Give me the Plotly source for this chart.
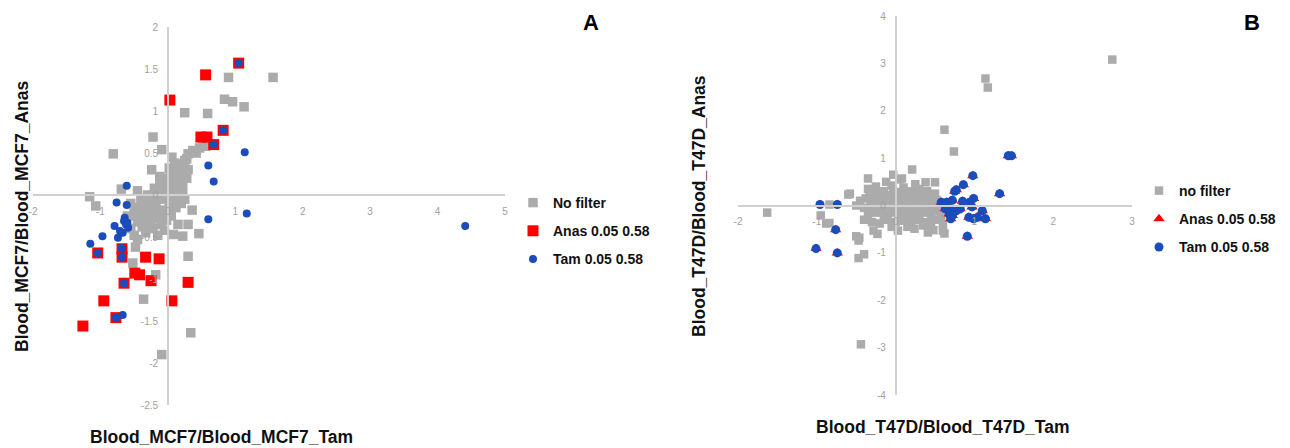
import plotly.graph_objects as go

# ---------------- Panel A data (Blood_MCF7) ----------------
a_nofilter_x = [1.56, 0.90, 0.84, 0.96, 1.13, 0.25, 0.59, -0.22, -0.81, -0.09, 0.06, -0.24, -1.16, -1.07,
                0.36, 0.30, 0.46, 0.22, 0.30, -0.18, -0.36, 0.34, -0.09, -0.52, -0.48, -0.45, 0.08, 0.25, -0.69,
                0.30, 0.37, 0.47, 0.52, 0.25, 0.18, 0.13, 0.07, 0.42, 0.56, 0.28,
                0.00, 0.05, -0.05, 0.10, 0.15, 0.20, -0.10, 0.00, 0.08, -0.15, -0.05, 0.12, 0.18, -0.20, -0.25,
                -0.30, -0.18, -0.08, 0.02, -0.35, -0.40, -0.28, -0.15, -0.45, -0.50, -0.38, -0.22, -0.10, 0.05,
                0.12, -0.55, -0.30, -0.40, 0.22, 0.28, 0.30, -0.12, 0.02, 0.10, -0.45, -0.55, -0.60, -0.05, 0.15,
                -0.33, 0.20, -0.50, 0.18, 0.10, -0.02,
                -0.02, 0.04, -0.12, -0.22, -0.32, -0.42, -0.28, -0.18, -0.08, 0.08, 0.15, -0.35, -0.25, -0.48,
                -0.15, 0.22, 0.25, -0.38, 0.00, -0.20]
a_nofilter_y = [1.40, 1.40, 1.14, 1.11, 1.05, 0.98, 0.97, 0.69, 0.49, 0.54, 0.45, 0.30, -0.02, -0.13,
                -0.18, -0.35, -0.46, -0.49, -0.73, -0.95, -1.24, -1.64, -1.90, -0.81, -0.62, -0.53, -0.47, -0.05, 0.07,
                0.49, 0.53, 0.56, 0.61, 0.41, 0.37, 0.31, 0.25, 0.50, 0.58, 0.43,
                0.20, 0.15, 0.12, 0.10, 0.18, 0.25, 0.05, 0.05, 0.02, -0.02, -0.05, -0.02, 0.05, 0.08, -0.08,
                -0.12, -0.15, -0.18, -0.12, -0.20, -0.25, -0.28, -0.28, -0.32, -0.18, -0.38, -0.40, -0.35, -0.25,
                -0.15, -0.40, 0.00, -0.05, 0.12, 0.20, 0.30, 0.22, 0.32, 0.38, 0.05, -0.10, -0.25, -0.42, -0.35,
                -0.45, -0.10, -0.48, 0.30, 0.22, -0.30,
                0.10, 0.28, 0.15, 0.00, -0.05, -0.15, -0.22, -0.08, -0.25, -0.08, 0.00, -0.30, -0.35, -0.25,
                -0.48, 0.02, 0.32, -0.12, -0.20, -0.22]

a_anas_x = [1.05, 0.56, 0.03, 0.82, 0.49, 0.58, 0.68, -1.04, -0.68, -0.68, -0.33, -0.13, -0.49, -0.42,
            -0.25, -0.65, 0.30, -0.95, 0.06, -0.77, -1.26]
a_anas_y = [1.57, 1.43, 1.13, 0.77, 0.69, 0.69, 0.60, -0.69, -0.64, -0.74, -0.74, -0.76, -0.93, -0.95,
            -1.02, -1.05, -1.04, -1.26, -1.26, -1.46, -1.56]

a_tam_x = [1.05, 0.82, 0.68, -1.04, -0.68, -0.68, -0.65, -0.77, -0.67, 1.14, 0.60, 0.68, 1.17, 0.60, 4.41,
           -0.61, -0.76, -0.61, -0.64, -0.65, -0.79, -0.59, -0.71, -0.62, -0.74, -0.97, -1.15, -0.69, -0.60, -0.67]
a_tam_y = [1.57, 0.77, 0.60, -0.69, -0.64, -0.74, -1.05, -1.46, -1.43, 0.51, 0.35, 0.16, -0.22, -0.29, -0.37,
           0.11, -0.09, -0.12, -0.27, -0.31, -0.37, -0.39, -0.43, -0.35, -0.51, -0.49, -0.58, -0.63, -0.33, -0.45]

a_xticks = [-2, -1, 0, 1, 2, 3, 4, 5]
a_xticklabels = ["-2", "-1", "0", "1", "2", "3", "4", "5"]
a_yticks = [-2.5, -2, -1.5, -1, -0.5, 0, 0.5, 1, 1.5, 2]
a_yticklabels = ["-2.5", "-2", "-1.5", "-1", "-0.5", "0", "0.5", "1", "1.5", "2"]
a_xrange = [-2, 5]
a_yrange = [-2.5, 2]

# ---------------- Panel B data (Blood_T47D) ----------------
b_nofilter_x = [2.75, 1.14, 1.17, 0.62, 0.74, 0.21, -0.03, 0.08, -0.35, -1.63, -0.60, -0.50, -0.84, -0.95,
                -0.84, -0.50, -0.47, -0.47, -0.40, -0.44, -0.28, -0.23, 0.03, 0.24, 0.41, 0.48, 0.62, 0.38, 0.50,
                -0.58, -0.88, -0.46, 0.60,
                -0.35, -0.25, -0.15, -0.05, 0.10, 0.20, 0.30, 0.40, 0.50, -0.38, -0.28, -0.18, -0.08, 0.02, 0.12,
                0.22, 0.32, 0.42, 0.52, -0.40, -0.30, -0.20, -0.10, 0.00, 0.10, 0.20, 0.30, 0.40, 0.50, 0.58,
                -0.35, -0.25, -0.15, -0.05, 0.05, 0.15, 0.25, 0.35, 0.45, 0.55, -0.30, -0.20, -0.10, 0.00, 0.10,
                0.20, 0.30, 0.40, 0.50, 0.58, -0.12, 0.05, 0.25, -0.45, 0.60, 0.45, -0.40, 0.15,
                -0.33, -0.23, -0.13, -0.03, 0.07, 0.17, 0.27, 0.37, 0.47, -0.32, -0.22, -0.12, -0.02, 0.08, 0.18,
                0.28, 0.38, 0.48, 0.55, -0.30, -0.20, -0.10, 0.00, 0.10, 0.20, 0.30, 0.40, 0.50, -0.05, 0.15, 0.35]
b_nofilter_y = [3.08, 2.68, 2.49, 1.60, 1.14, 0.76, 0.65, 0.57, 0.57, -0.15, 0.23, 0.00, 0.02, -0.21,
                -0.37, -0.65, -0.74, -1.11, -1.03, -2.93, -0.53, -0.60, -0.53, -0.49, -0.57, -0.52, -0.59, 0.49, 0.49,
                0.25, -0.38, -0.68, -0.53,
                0.35, 0.40, 0.30, 0.42, 0.38, 0.30, 0.35, 0.30, 0.25, 0.15, 0.20, 0.12, 0.20, 0.15, 0.22,
                0.12, 0.18, 0.10, 0.12, -0.05, 0.00, -0.02, 0.05, 0.00, 0.05, -0.02, 0.03, -0.05, 0.00, 0.05,
                -0.20, -0.15, -0.22, -0.15, -0.20, -0.12, -0.22, -0.15, -0.20, -0.12, -0.35, -0.38, -0.30, -0.35, -0.32,
                -0.38, -0.30, -0.35, -0.30, -0.25, 0.50, 0.55, 0.45, 0.10, -0.40, -0.45, -0.30, -0.45,
                0.25, 0.28, 0.22, 0.30, 0.28, 0.22, 0.25, 0.20, 0.18, 0.08, 0.06, 0.10, 0.08, 0.10, 0.06,
                0.08, 0.05, 0.06, -0.05, -0.08, -0.10, -0.08, -0.10, -0.06, -0.10, -0.08, -0.10, -0.08, -0.45, -0.25, -0.42]

b_tam_x = [1.43, 1.47, 0.98, 0.86, 0.75, 0.77, 1.32, 0.99, 0.58, 0.65, 0.72, 0.85, 0.94, 0.63, 0.70, 0.77,
           0.68, 0.72, 0.82, 0.70, 0.97, 1.10, 0.93, 0.99, 1.04, 1.14, 0.91, -0.96, -0.74, -0.76, -1.01, -0.74]
b_tam_y = [1.05, 1.05, 0.63, 0.44, 0.30, 0.33, 0.25, 0.15, 0.07, 0.07, 0.11, 0.09, 0.07, -0.07, -0.11, -0.11,
           -0.18, -0.21, -0.07, -0.28, -0.03, -0.11, -0.25, -0.28, -0.25, -0.28, -0.65, 0.02, 0.02, -0.51, -0.91, -1.00]
b_anas_x = list(b_tam_x)
b_anas_y = list(b_tam_y)

b_xticks = [-2, -1, 0, 1, 2, 3]
b_xticklabels = ["-2", "-1", "0", "1", "2", "3"]
b_yticks = [-4, -3, -2, -1, 0, 1, 2, 3, 4]
b_yticklabels = ["-4", "-3", "-2", "-1", "0", "1", "2", "3", "4"]
b_xrange = [-2, 3]
b_yrange = [-4, 4]

# ---------------- styling / layout ----------------
PAGE_W, PAGE_H = 1290, 448
OFF = 8  # default page body margin
W, H = PAGE_W - OFF, PAGE_H - OFF
GREY = "#ababab"
RED = "#ff0000"
BLUE = "#1a4cba"
AXCOL = "#d0d0d0"
TICKCOL = "#a0a0a0"


def px(xs):
    return (xs - OFF) / W


def py(ys):
    return 1 - (ys - OFF) / H


a_xdom = [px(33), px(505)]
a_ydom = [py(405), py(27)]
b_xdom = [px(738), px(1132)]
b_ydom = [py(395), py(16)]


def cross_pos(dom, rng):
    return dom[0] + (0 - rng[0]) / (rng[1] - rng[0]) * (dom[1] - dom[0])


fig = go.Figure()

# Panel A
fig.add_trace(go.Scatter(x=a_nofilter_x, y=a_nofilter_y, mode="markers", name="No filter",
                         marker=dict(symbol="square", size=9.5, color=GREY),
                         xaxis="x", yaxis="y", legend="legend", legendgroup="a1"))
fig.add_trace(go.Scatter(x=a_anas_x, y=a_anas_y, mode="markers", name="Anas 0.05 0.58",
                         marker=dict(symbol="square", size=11, color=RED),
                         xaxis="x", yaxis="y", legend="legend", legendgroup="a2"))
fig.add_trace(go.Scatter(x=a_tam_x, y=a_tam_y, mode="markers", name="Tam 0.05 0.58",
                         marker=dict(symbol="circle", size=8, color=BLUE),
                         xaxis="x", yaxis="y", legend="legend", legendgroup="a3"))

# Panel B
fig.add_trace(go.Scatter(x=b_nofilter_x, y=b_nofilter_y, mode="markers", name="no filter",
                         marker=dict(symbol="square", size=8.5, color=GREY),
                         xaxis="x2", yaxis="y2", legend="legend2", legendgroup="b1"))
fig.add_trace(go.Scatter(x=b_anas_x, y=b_anas_y, mode="markers", name="Anas 0.05 0.58",
                         marker=dict(symbol="triangle-up", size=10, color=RED),
                         xaxis="x2", yaxis="y2", legend="legend2", legendgroup="b2"))
fig.add_trace(go.Scatter(x=b_tam_x, y=b_tam_y, mode="markers", name="Tam 0.05 0.58",
                         marker=dict(symbol="circle", size=9, color=BLUE),
                         xaxis="x2", yaxis="y2", legend="legend2", legendgroup="b3"))

tickfont = dict(family="Liberation Sans, Arial, sans-serif", size=10, color=TICKCOL)
common = dict(showgrid=False, zeroline=False, showline=True, linecolor=AXCOL, linewidth=1.5,
              ticks="outside", ticklen=7, tickcolor="rgba(0,0,0,0)", tickfont=tickfont,
              fixedrange=True, anchor="free", automargin=False)

legfont = dict(family="Liberation Sans, Arial, sans-serif", size=14, color="#111", weight="bold")

fig.update_layout(
    width=W, height=H,
    margin=dict(l=0, r=0, t=0, b=0, autoexpand=False),
    paper_bgcolor="white", plot_bgcolor="white",
    xaxis=dict(domain=a_xdom, range=a_xrange, tickvals=a_xticks, ticktext=a_xticklabels,
               position=cross_pos(a_ydom, a_yrange), **common),
    yaxis=dict(domain=a_ydom, range=a_yrange, tickvals=a_yticks, ticktext=a_yticklabels,
               position=cross_pos(a_xdom, a_xrange), **common),
    xaxis2=dict(domain=b_xdom, range=b_xrange, tickvals=b_xticks, ticktext=b_xticklabels,
                position=cross_pos(b_ydom, b_yrange), **common),
    yaxis2=dict(domain=b_ydom, range=b_yrange, tickvals=b_yticks, ticktext=b_yticklabels,
                position=cross_pos(b_xdom, b_xrange), **common),
    legend=dict(x=px(513), y=py(187), xanchor="left", yanchor="top", font=legfont,
                tracegroupgap=7, itemwidth=30, bgcolor="rgba(0,0,0,0)"),
    legend2=dict(x=px(1139), y=py(175), xanchor="left", yanchor="top", font=legfont,
                 tracegroupgap=7, itemwidth=30, bgcolor="rgba(0,0,0,0)"),
    showlegend=True,
)

title_font = dict(family="Liberation Sans, Arial, sans-serif", size=17.5, color="#111", weight="bold")
letter_font = dict(family="Liberation Sans, Arial, sans-serif", size=22, color="#000", weight="bold")
fig.add_annotation(text="Blood_MCF7/Blood_MCF7_Tam", x=px(221), y=py(437), xref="paper", yref="paper",
                   showarrow=False, xanchor="center", yanchor="middle", font=title_font)
fig.add_annotation(text="Blood_MCF7/Blood_MCF7_Anas", x=px(22), y=py(216), xref="paper", yref="paper",
                   showarrow=False, xanchor="center", yanchor="middle", textangle=-90, font=title_font)
fig.add_annotation(text="Blood_T47D/Blood_T47D_Tam", x=px(942), y=py(427), xref="paper", yref="paper",
                   showarrow=False, xanchor="center", yanchor="middle", font=title_font)
fig.add_annotation(text="Blood_T47D/Blood_T47D_Anas", x=px(699), y=py(206), xref="paper", yref="paper",
                   showarrow=False, xanchor="center", yanchor="middle", textangle=-90, font=title_font)
fig.add_annotation(text="A", x=px(591), y=py(22), xref="paper", yref="paper",
                   showarrow=False, xanchor="center", yanchor="middle", font=letter_font)
fig.add_annotation(text="B", x=px(1252), y=1, xref="paper", yref="paper",
                   showarrow=False, xanchor="center", yanchor="top", font=letter_font)

fig.write_html("out.html")
